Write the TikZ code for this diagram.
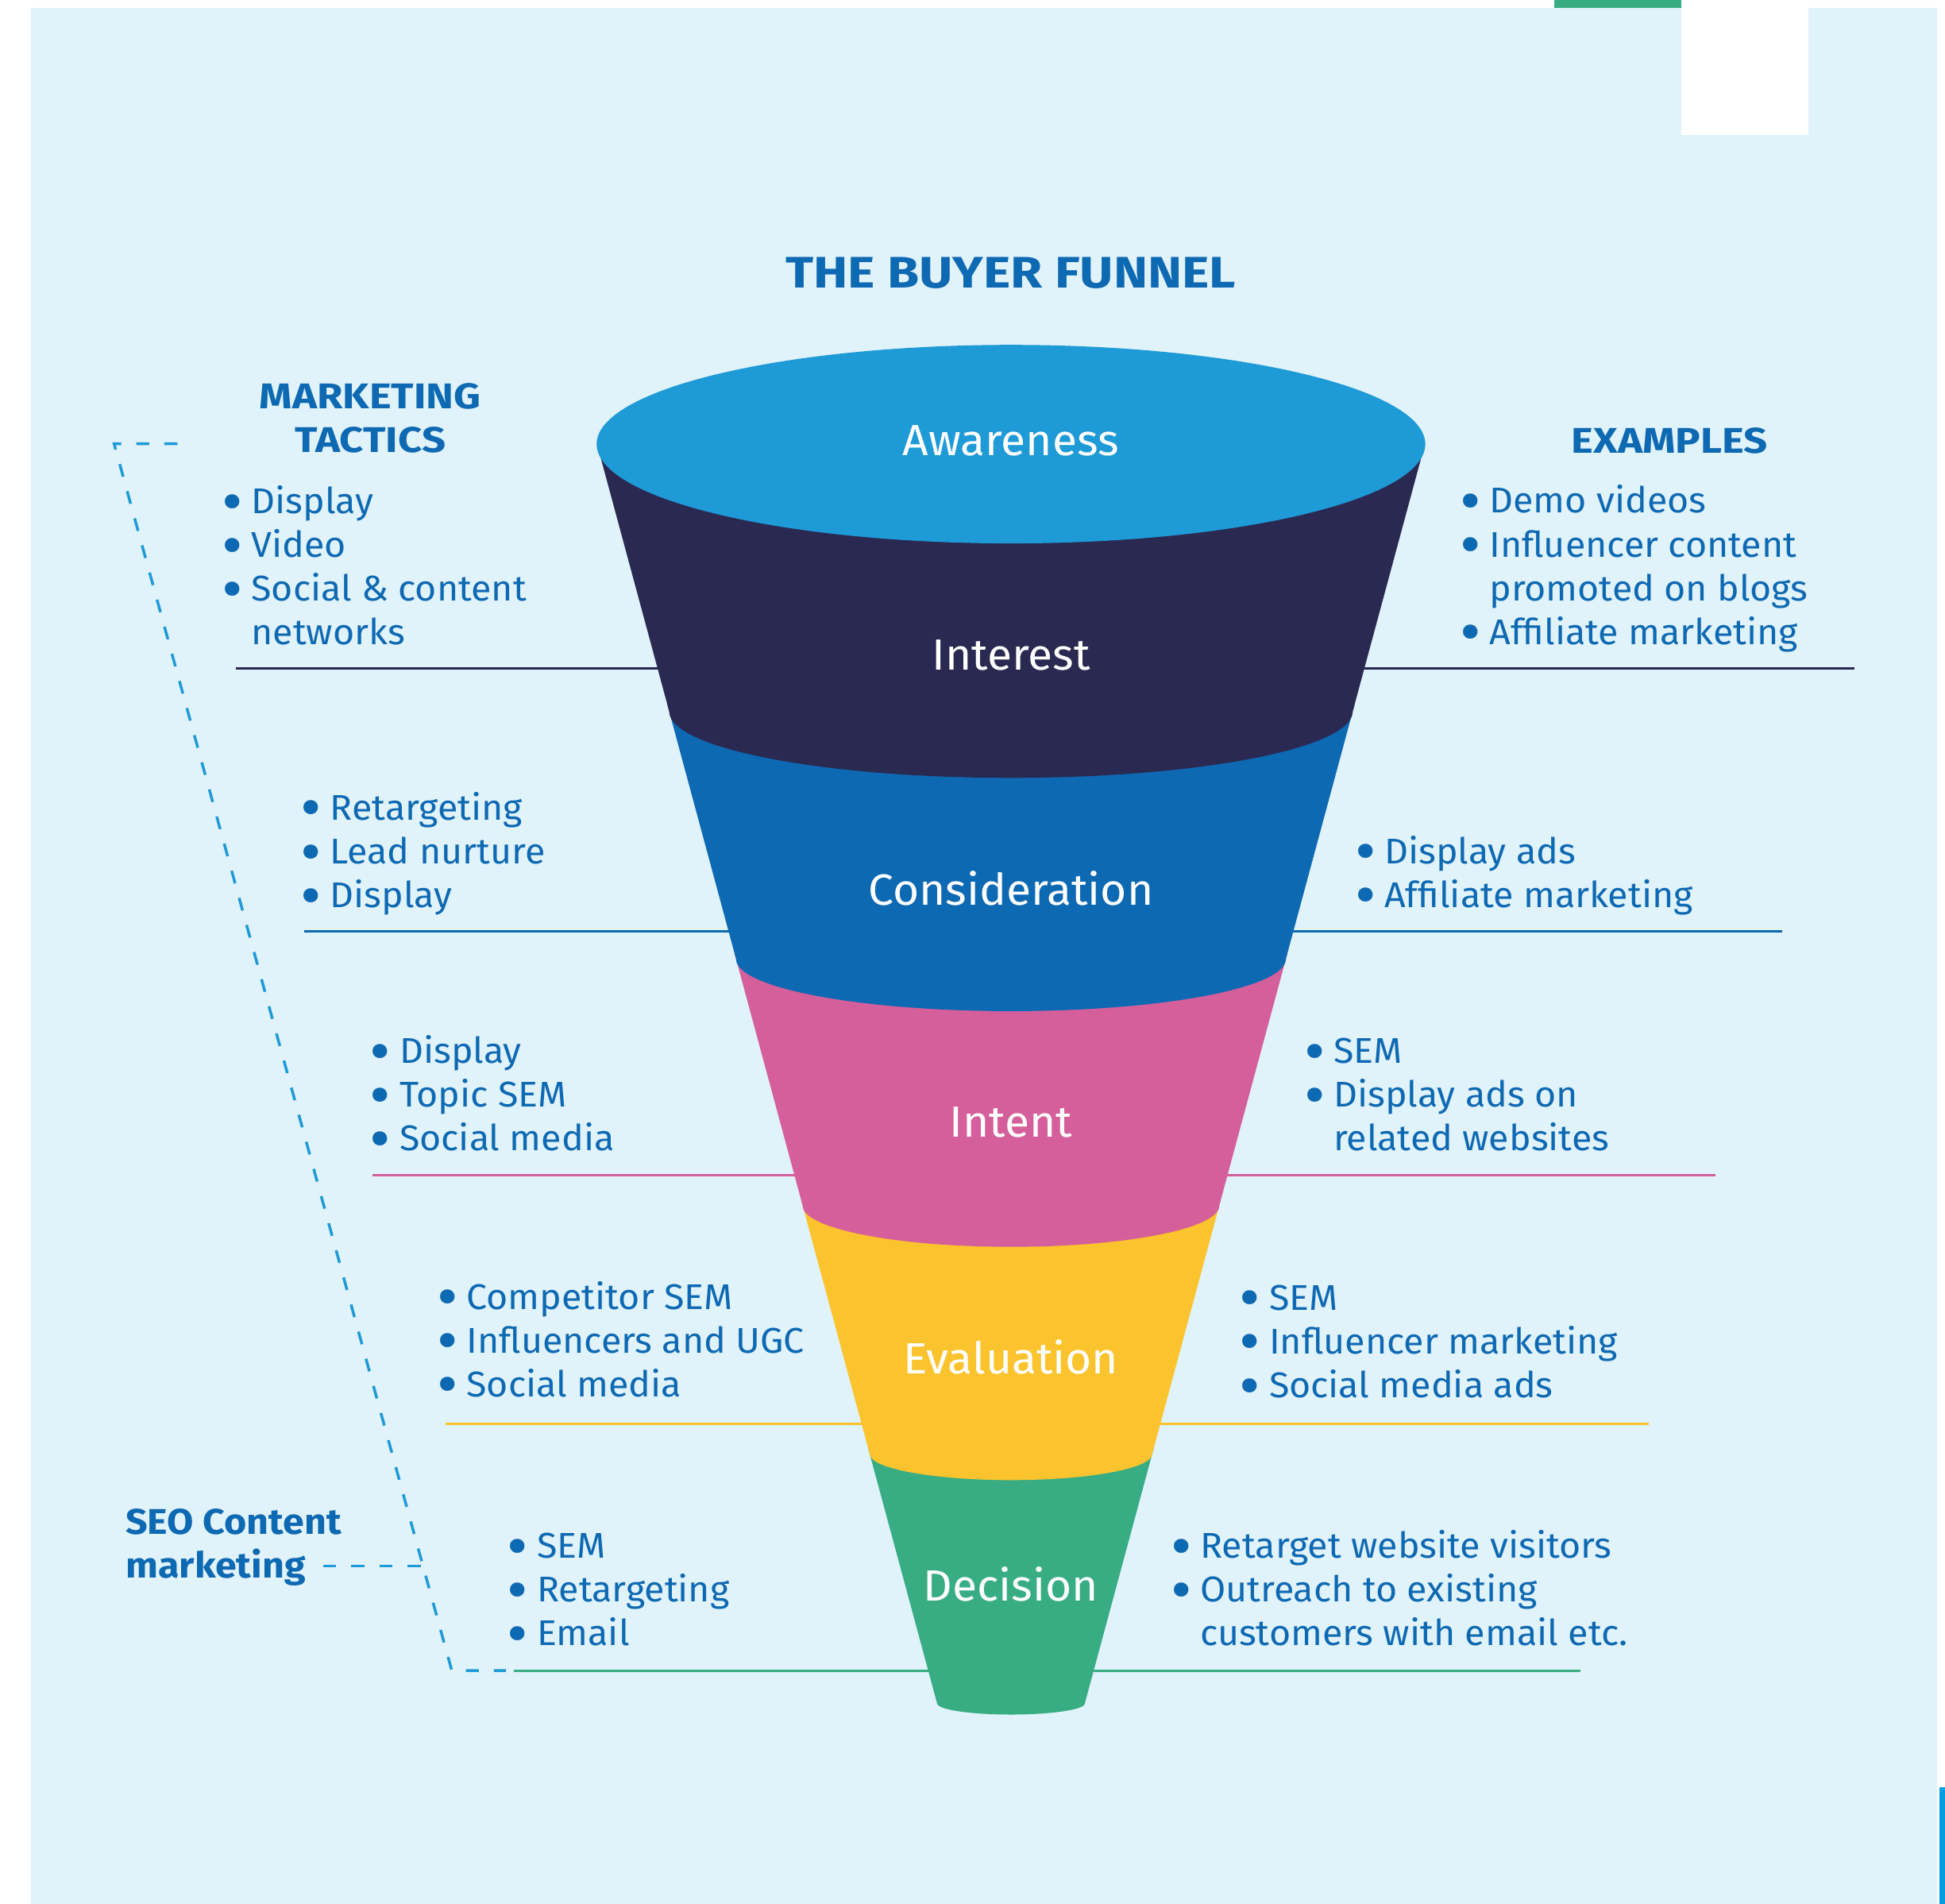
\documentclass[tikz,border=0pt]{standalone}
\usepackage{graphicx}
\usepackage{fontspec}
\setmainfont{Fira Sans}[FakeStretch=1.035, BoldFeatures={FakeStretch=1.17}]
\newfontfamily\seofont{Fira Sans}[BoldFeatures={FakeStretch=1.075}]
\definecolor{bgblue}{HTML}{E0F2FA}
\definecolor{awblue}{HTML}{1E9AD6}
\definecolor{navy}{HTML}{2A2952}
\definecolor{consblue}{HTML}{0E69B3}
\definecolor{intpink}{HTML}{D55F9A}
\definecolor{evyellow}{HTML}{FBC32D}
\definecolor{decgreen}{HTML}{38AD83}
\definecolor{textblue}{HTML}{0E69B3}
\definecolor{barblue}{HTML}{009FE3}
\newcommand\bl{\llap{\makebox[0pt][c]{\smash{\raisebox{-11.5pt}{\scalebox{1.75}{•}}}}\hspace{24pt}}}
\newcommand\lst[1]{\begin{tabular}[t]{@{}l@{}}#1\end{tabular}}
\newcommand\ctr[1]{\begin{tabular}[t]{@{}c@{}}#1\end{tabular}}
% funnel band: colour, top y, bottom edge y, arc depth
\newcommand\funnelband[4]{%
  \pgfmathsetmacro\xlt{481.3+0.2701*(#2-358)}%
  \pgfmathsetmacro\xrt{1630-\xlt}%
  \pgfmathsetmacro\xle{481.3+0.2701*(#3-358)}%
  \pgfmathsetmacro\rxe{815-\xle}%
  \fill[#1] (\xlt,#2) -- (\xle,#3) arc[start angle=180, end angle=0, x radius=\rxe, y radius=#4] -- (\xrt,#2) -- cycle;}
\tikzset{
  listtext/.style={anchor=base west, inner sep=0pt, text=textblue, font=\fontsize{45}{55.1}\selectfont},
  headtext/.style={anchor=base, inner sep=0pt, text=textblue, font=\bfseries\fontsize{45}{55.3}\selectfont},
  stagelabel/.style={anchor=base, inner sep=0pt, text=white, font=\fontsize{55}{66}\selectfont},
  dashline/.style={draw=awblue, line width=3.5pt, dash pattern=on 16.4pt off 19pt},
  sepline/.style={line width=3pt}
}
\begin{document}
\begin{tikzpicture}[x=1.56186pt,y=-1.56186pt]
\useasboundingbox (0,0) rectangle (1568,1534.7);
% page and panel
\fill[white] (0,0) rectangle (1568,1534.7);
\fill[bgblue] (25,6.4) rectangle (1561.6,1534.7);
\fill[decgreen] (1253,0) rectangle (1355.4,6.4);
\fill[white] (1355.4,6.4) rectangle (1457.9,108.8);
\fill[barblue] (1563.5,1440.6) rectangle (1568,1534.7);

% separator lines (behind funnel)
\draw[sepline, navy] (190,539) -- (1495,539);
\draw[sepline, consblue] (245,751) -- (1437,751);
\draw[sepline, intpink] (300,947) -- (1383,947);
\draw[sepline, evyellow] (358.9,1147.5) -- (1329,1147.5);
\draw[sepline, decgreen] (414,1346.5) -- (1274,1346.5);

% funnel
\funnelband{decgreen}{1167}{1373}{9}
\funnelband{evyellow}{967}{1172}{21}
\funnelband{intpink}{768}{972}{33}
\funnelband{consblue}{568}{773}{42}
\funnelband{navy}{358}{573.5}{53.5}
\fill[awblue] (815,358) ellipse [x radius=334, y radius=80];

% stage labels
\node[stagelabel] (aw) at (815,367.5) {Awareness};
\node[stagelabel] (in) at (815,540) {Interest};
\node[stagelabel] (co) at (815,729.5) {Consideration};
\node[stagelabel] (it) at (815,916.5) {Intent};
\node[stagelabel] (ev) at (815,1107.5) {Evaluation};
\node[stagelabel] (de) at (815,1290.5) {Decision};

% title and headings
\node[anchor=base, inner sep=0pt, text=textblue, font=\bfseries\fontsize{55.6}{66}\selectfont] (title) at (814.8,232) {THE BUYER FUNNEL};
\node[headtext] (mt) at (298.5,329.1) {\ctr{MARKETING\\TACTICS}};
\node[headtext] (ex) at (1346,365) {EXAMPLES};
\node[anchor=base west, inner sep=0pt, text=textblue, font=\seofont\bfseries\fontsize{45}{55}\selectfont] (seo) at (101.2,1236.8) {\lst{SEO Content\\marketing}};

% left lists
\node[listtext] (l1) at (202.5,414) {\lst{\bl Display\\ \bl Video\\ \bl Social \& content\\ networks}};
\node[listtext] (l2) at (266,661) {\lst{\bl Retargeting\\ \bl Lead nurture\\ \bl Display}};
\node[listtext] (l3) at (322,857) {\lst{\bl Display\\ \bl Topic SEM\\ \bl Social media}};
\node[listtext] (l4) at (376,1055.3) {\lst{\bl Competitor SEM\\ \bl Influencers and UGC\\ \bl Social media}};
\node[listtext] (l5) at (432.8,1256) {\lst{\bl SEM\\ \bl Retargeting\\ \bl Email}};

% right lists
\node[listtext] (r1) at (1200.6,413.6) {\lst{\bl Demo videos\\ \bl Influencer content\\ promoted on blogs\\ \bl Affiliate marketing}};
\node[listtext] (r2) at (1116,696) {\lst{\bl Display ads\\ \bl Affiliate marketing}};
\node[listtext] (r3) at (1075,857) {\lst{\bl SEM\\ \bl Display ads on\\ related websites}};
\node[listtext] (r4) at (1023,1056) {\lst{\bl SEM\\ \bl Influencer marketing\\ \bl Social media ads}};
\node[listtext] (r5) at (967.5,1256) {\lst{\bl Retarget website visitors\\ \bl Outreach to existing\\ customers with email etc.}};

% SEO bracket
\coordinate (btop) at (143,357.7);
\coordinate (bcorner1) at (92,357.7);
\coordinate (bcorner2) at (364.2,1346.5);
\coordinate (bend) at (408,1346.5);
\coordinate (seostart) at (260.6,1262.4);
\coordinate (seojoin) at (341,1262.4);
\draw[dashline] (btop) -- (bcorner1) -- (bcorner2) -- (bend);
\draw[dashline] (seostart) -- (seojoin);
\end{tikzpicture}
\end{document}
